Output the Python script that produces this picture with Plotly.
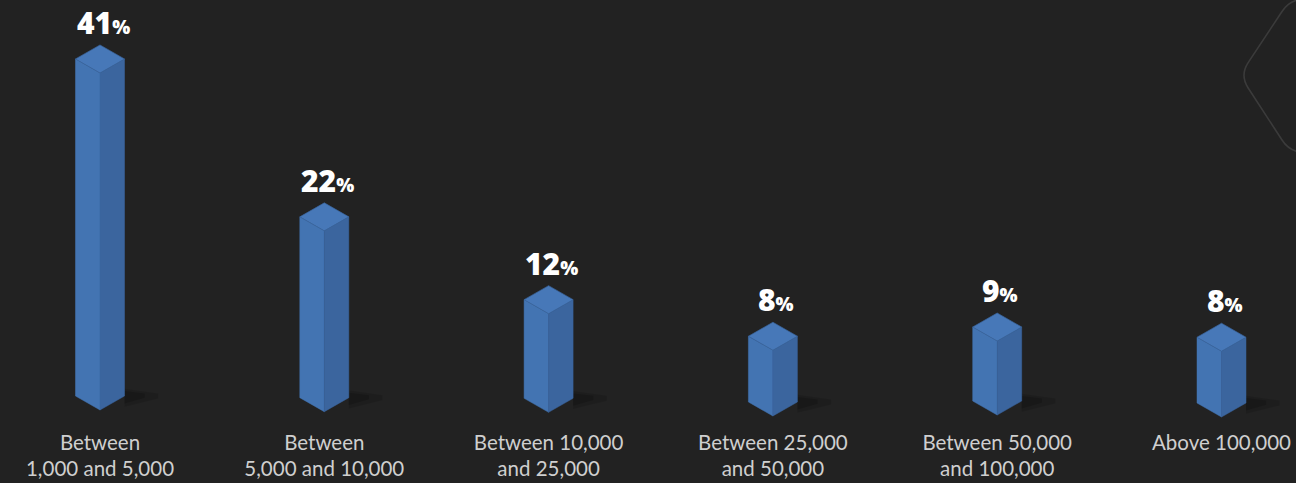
import plotly.graph_objects as go

# ---- data ----
categories = [
    "Between<br>1,000 and 5,000",
    "Between<br>5,000 and 10,000",
    "Between 10,000<br>and 25,000",
    "Between 25,000<br>and 50,000",
    "Between 50,000<br>and 100,000",
    "Above 100,000",
]
values = [41, 22, 12, 8, 9, 8]

# ---- styling / geometry ----
W_PX, H_PX = 1296, 483
BG = "#222222"
PX_PER_UNIT = 8.22          # vertical pixels per percentage point
BASE_PX = 410               # pixel row of reference baseline (front vertex)
BASE_DROP_PX = [0, 1.7, 2.3, 6, 5, 7]   # per-bar drop of the base (layout quirk)
CAT_PX = 224.3              # pixel spacing between categories
FIRST_PX = 100              # pixel x of first bar centre
PLOT_BOTTOM_PX = 428

HW = 24.5 / CAT_PX          # half width of prism in category units
HH = 14 / PX_PER_UNIT       # half height of top diamond in value units

x0 = -FIRST_PX / CAT_PX
x1 = x0 + W_PX / CAT_PX
y1 = BASE_PX / PX_PER_UNIT
y0 = -(PLOT_BOTTOM_PX - BASE_PX) / PX_PER_UNIT

LEFT_C = "#4374b2"
RIGHT_C = "#3b659e"
TOP_C = "#4778b8"
EDGE_C = "#3a649c"

xs = list(range(len(values)))
bases = [-d / PX_PER_UNIT for d in BASE_DROP_PX]

def faces(kind):
    px, py = [], []
    for c, v, b0 in zip(xs, values, bases):
        t = b0 + v
        if kind == "left":
            pts = [(c - HW, t + HH), (c, t), (c, b0), (c - HW, b0 + HH)]
        elif kind == "right":
            pts = [(c, t), (c + HW, t + HH), (c + HW, b0 + HH), (c, b0)]
        elif kind == "top":
            pts = [(c, t + 2 * HH), (c - HW, t + HH), (c, t), (c + HW, t + HH)]
        elif kind == "shadow1":
            pts = [(c + HW, b0 + 0.4), (c + HW, b0 + 2.6), (c + HW + 0.15, b0 + 2.0), (c + HW + 0.15, b0 + 1.4)]
        else:  # shadow2 (core)
            pts = [(c + HW, b0 + 0.8), (c + HW, b0 + 2.3), (c + HW + 0.09, b0 + 2.0), (c + HW + 0.09, b0 + 1.5)]
        for a, b in pts:
            px.append(a)
            py.append(b)
        px.append(pts[0][0]); py.append(pts[0][1])
        px.append(None); py.append(None)
    return px, py

fig = go.Figure()
for kind, fillc, linec, lw in [
    ("shadow1", "rgba(0,0,0,0.12)", "rgba(0,0,0,0)", 0),
    ("shadow2", "rgba(0,0,0,0.16)", "rgba(0,0,0,0)", 0),
    ("left", LEFT_C, LEFT_C, 0.5),
    ("right", RIGHT_C, RIGHT_C, 0.5),
    ("top", TOP_C, EDGE_C, 0.7),
]:
    fx, fy = faces(kind)
    fig.add_trace(go.Scatter(
        x=fx, y=fy, mode="lines", fill="toself", fillcolor=fillc,
        line=dict(color=linec, width=lw), hoverinfo="skip", showlegend=False,
    ))

for c, v, b0 in zip(xs, values, bases):
    fig.add_annotation(
        x=c, y=b0 + v + 2 * HH, xref="x", yref="y", yanchor="bottom", showarrow=False,
        yshift=0, xshift=3,
        text=f"{v}<span style='font-size:19px'>%</span>",
        font=dict(family="Open Sans", size=30, color="#ffffff", weight=800),
    )

# decorative rounded hexagon outline (top right)
def P(x, y):
    return f"{x / W_PX:.5f},{1 - y / H_PX:.5f}"

hex_path = (
    f"M {P(1330, -1)} L {P(1305, -1)} Q {P(1290, -1)} {P(1282, 13)} "
    f"L {P(1248, 71)} Q {P(1240, 85)} {P(1248, 99)} "
    f"L {P(1282, 158)} Q {P(1290, 172)} {P(1305, 172)} L {P(1330, 172)}"
)
fig.add_shape(type="path", path=hex_path, xref="paper", yref="paper",
              line=dict(color="#3b3b3b", width=1.6), layer="below")

fig.update_layout(
    width=W_PX, height=H_PX,
    paper_bgcolor=BG, plot_bgcolor=BG,
    margin=dict(l=0, r=0, t=0, b=H_PX - PLOT_BOTTOM_PX),
    showlegend=False,
    xaxis=dict(
        range=[x0, x1], tickmode="array", tickvals=xs, ticktext=categories,
        showgrid=False, zeroline=False, showline=False, ticks="",
        tickfont=dict(family="Lato", size=20.5, color="#cfcfcf"),
        automargin=False, fixedrange=True,
    ),
    yaxis=dict(
        range=[y0, y1], visible=False, showgrid=False, zeroline=False,
        fixedrange=True,
    ),
)

fig.write_html("out.html", config={"displayModeBar": False},
               post_script="document.body.style.margin='0';")
